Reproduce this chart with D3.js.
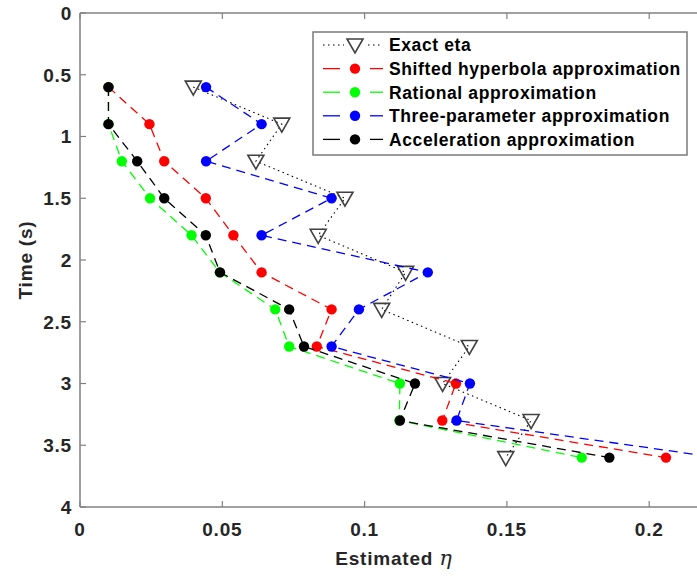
<!DOCTYPE html>
<html>
<head>
<meta charset="utf-8">
<script src="https://cdn.jsdelivr.net/npm/d3@7"></script>
<style>
  html, body { margin: 0; padding: 0; background: #fff; }
  svg { display: block; }
  .tick-label { font-family: "Liberation Sans", Arial, sans-serif; font-weight: bold; font-size: 19px; fill: #262626; letter-spacing: 0.8px; }
  .legend-text { font-family: "Liberation Sans", Arial, sans-serif; font-weight: bold; font-size: 17.5px; fill: #000; letter-spacing: 0.6px; }
</style>
</head>
<body>
<svg id="chart" width="697" height="579"></svg>
<script>
// Time samples (s)
const times = [0.6, 0.9, 1.2, 1.5, 1.8, 2.1, 2.4, 2.7, 3.0, 3.3, 3.6];

// Estimated eta per method
const exactEta = [0.0398, 0.0709, 0.0618, 0.0931, 0.0837, 0.1144, 0.106, 0.1368, 0.1274, 0.1585, 0.1496];
const shiftedHyperbola = [0.01, 0.0244, 0.0296, 0.0442, 0.0539, 0.0638, 0.0884, 0.0832, 0.1321, 0.1273, 0.2059];
const rationalApprox = [0.01, 0.01, 0.0147, 0.0246, 0.0392, 0.0491, 0.0686, 0.0735, 0.1124, 0.1122, 0.1763];
const threeParam = [0.0443, 0.0638, 0.0443, 0.0884, 0.0638, 0.1222, 0.098, 0.0884, 0.137, 0.1323, 0.224];
const accelApprox = [0.01, 0.01, 0.0201, 0.0296, 0.0442, 0.0492, 0.0735, 0.0787, 0.1177, 0.1124, 0.186];

// only the ticks that fall inside the cropped figure
const xTicks = [0, 0.05, 0.1, 0.15, 0.2];
const yTicks = [0, 0.5, 1, 1.5, 2, 2.5, 3, 3.5, 4];

const seriesList = [
  { name: 'Exact eta', values: exactEta, color: '#000', marker: 'triangle', dash: '1.5,3.5' },
  { name: 'Shifted hyperbola approximation', values: shiftedHyperbola, color: '#ff0000', marker: 'circle', dash: '9,6' },
  { name: 'Rational approximation', values: rationalApprox, color: '#00ff00', marker: 'circle', dash: '9,6' },
  { name: 'Three-parameter approximation', values: threeParam, color: '#0000ff', marker: 'circle', dash: '9,6' },
  { name: 'Acceleration approximation', values: accelApprox, color: '#000000', marker: 'circle', dash: '9,6' }
];

const svg = d3.select('#chart');

const plotLeft = 80, plotTop = 13, plotBottom = 507;
const x = d3.scaleLinear().domain([0, 0.25]).range([plotLeft, plotLeft + 0.25 * 2846]);
const y = d3.scaleLinear().domain([0, 4]).range([plotTop, plotBottom]);

const axisColor = '#808080';

// Axis lines (box: left, top, bottom)
const axes = svg.append('g');
axes.append('line').attr('x1', plotLeft).attr('x2', 697).attr('y1', plotBottom).attr('y2', plotBottom)
  .attr('stroke', axisColor).attr('stroke-width', 1.5);
axes.append('line').attr('x1', plotLeft).attr('x2', 697).attr('y1', plotTop).attr('y2', plotTop)
  .attr('stroke', axisColor).attr('stroke-width', 1.5);
axes.append('line').attr('x1', plotLeft).attr('x2', plotLeft).attr('y1', plotTop).attr('y2', plotBottom)
  .attr('stroke', axisColor).attr('stroke-width', 1.5);

// Ticks pointing inwards
xTicks.forEach(t => {
  axes.append('line').attr('x1', x(t)).attr('x2', x(t)).attr('y1', plotBottom).attr('y2', plotBottom - 6)
    .attr('stroke', axisColor).attr('stroke-width', 1.2);
  axes.append('line').attr('x1', x(t)).attr('x2', x(t)).attr('y1', plotTop).attr('y2', plotTop + 6)
    .attr('stroke', axisColor).attr('stroke-width', 1.2);
  axes.append('text').attr('class', 'tick-label')
    .attr('x', x(t)).attr('y', 536).attr('text-anchor', 'middle')
    .text(t);
});
yTicks.forEach(t => {
  axes.append('line').attr('x1', plotLeft).attr('x2', plotLeft + 6).attr('y1', y(t)).attr('y2', y(t))
    .attr('stroke', axisColor).attr('stroke-width', 1.2);
  axes.append('text').attr('class', 'tick-label')
    .attr('x', 72).attr('y', y(t)).attr('dy', '0.36em').attr('text-anchor', 'end')
    .text(t);
});

// Axis titles
svg.append('text')
  .attr('transform', 'translate(32,260) rotate(-90)')
  .attr('text-anchor', 'middle')
  .attr('class', 'tick-label')
  .text('Time (s)');

const xTitle = svg.append('text')
  .attr('x', 394).attr('y', 565).attr('text-anchor', 'middle')
  .attr('class', 'tick-label');
xTitle.append('tspan').text('Estimated ');
xTitle.append('tspan')
  .attr('font-family', '"DejaVu Serif", "Liberation Serif", serif')
  .attr('font-style', 'italic').attr('font-weight', 'normal').attr('font-size', '21px')
  .text('η');

// Markers
function drawMarker(g, s, cx, cy) {
  if (s.marker === 'triangle') {
    g.append('path')
      .attr('d', `M${cx - 8},${cy - 6} L${cx + 8},${cy - 6} L${cx},${cy + 8} Z`)
      .attr('fill', 'none').attr('stroke', '#404040').attr('stroke-width', 1.6);
  } else {
    g.append('circle').attr('cx', cx).attr('cy', cy).attr('r', 5.2).attr('fill', s.color);
  }
}

const line = d3.line().x(d => x(d[1])).y(d => y(d[0]));

const plot = svg.append('g');
seriesList.forEach(s => {
  const pts = times.map((t, i) => [t, s.values[i]]);
  const g = plot.append('g');
  g.append('path').datum(pts)
    .attr('d', line)
    .attr('fill', 'none')
    .attr('stroke', s.color)
    .attr('stroke-width', s.marker === 'triangle' ? 1.1 : 1.3)
    .attr('stroke-dasharray', s.dash);
  pts.forEach(p => drawMarker(g, s, x(p[1]), y(p[0])));
});

// Legend
const legend = svg.append('g');
legend.append('rect')
  .attr('x', 313).attr('y', 32).attr('width', 374).attr('height', 123)
  .attr('fill', '#fff').attr('stroke', '#7a7a7a').attr('stroke-width', 1.5);

seriesList.forEach((s, i) => {
  const ly = 45 + i * 23.6;
  const g = legend.append('g');
  if (s.marker === 'triangle') {
    g.append('line').attr('x1', 323).attr('x2', 383).attr('y1', ly).attr('y2', ly)
      .attr('stroke', s.color).attr('stroke-width', 1.1).attr('stroke-dasharray', s.dash);
    g.append('rect').attr('x', 344).attr('y', ly - 8).attr('width', 22).attr('height', 17).attr('fill', '#fff');
  } else {
    g.append('line').attr('x1', 323).attr('x2', 340).attr('y1', ly).attr('y2', ly)
      .attr('stroke', s.color).attr('stroke-width', 1.3);
    g.append('line').attr('x1', 370).attr('x2', 383).attr('y1', ly).attr('y2', ly)
      .attr('stroke', s.color).attr('stroke-width', 1.3);
  }
  drawMarker(g, s, 355, ly);
  g.append('text').attr('class', 'legend-text')
    .attr('x', 389).attr('y', ly).attr('dy', '0.36em')
    .text(s.name);
});
</script>
</body>
</html>
